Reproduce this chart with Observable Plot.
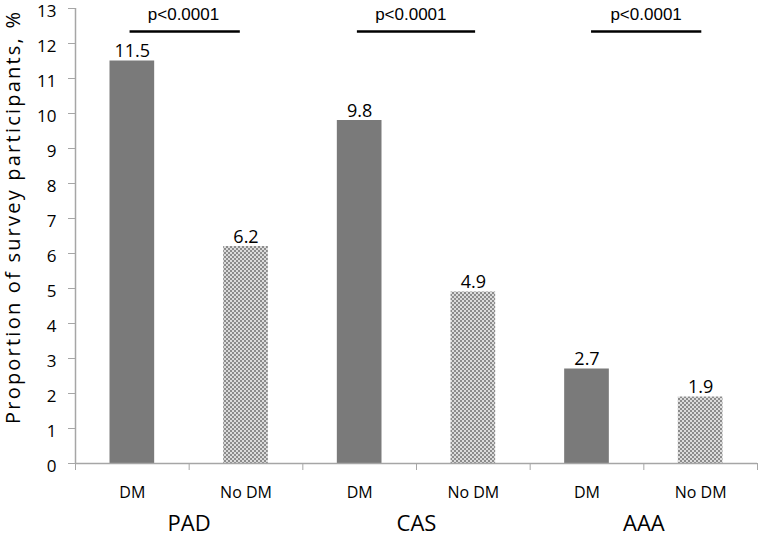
<!DOCTYPE html>
<html>
<head>
<meta charset="utf-8">
<script src="https://cdn.jsdelivr.net/npm/d3@7"></script>
<script src="https://cdn.jsdelivr.net/npm/@observablehq/plot@0.6"></script>
<style>
  html, body { margin: 0; padding: 0; background: #fff; }
  #chart svg { display: block; }
</style>
</head>
<body>
<div id="chart"></div>
<script>
// ---- data ----
const groups = ["PAD", "CAS", "AAA"];
const subgroups = ["DM", "No DM", "DM", "No DM", "DM", "No DM"];
const values = [11.5, 6.2, 9.8, 4.9, 2.7, 1.9];
const yTicks = [0, 1, 2, 3, 4, 5, 6, 7, 8, 9, 10, 11, 12, 13];
const yLabel = "Proportion of survey participants, %";
const pLabels = ["p<0.0001", "p<0.0001", "p<0.0001"];
const pLabelX = [0.95, 2.95, 5.02];
const bracketStart = [0.48, 2.48, 4.54];
const bracketEnd = [1.45, 3.52, 5.51];
const bracketY = 12.34;
const pTextY = 12.84;
const groupLabelX = [1, 3, 5];
const boundaries = [0, 1, 2, 3, 4, 5, 6];

const bars = values.map((v, i) => ({i, sub: subgroups[i], value: v, group: groups[Math.floor(i / 2)]}));
const brackets = pLabels.map((p, k) => ({p, x: pLabelX[k], x1: bracketStart[k], x2: bracketEnd[k], group: groups[k]}));
const groupRows = groups.map((g, k) => ({g, x: groupLabelX[k]}));

const sans = "'Liberation Sans', Arial, sans-serif";
const soft = "'Open Sans', 'DejaVu Sans', sans-serif";
const axisGray = "#a6a6a6";

const plot = Plot.plot({
  width: 760,
  height: 536,
  marginLeft: 75,
  marginRight: 3,
  marginTop: 8,
  marginBottom: 73,
  style: {fontFamily: sans, background: "#fff", overflow: "visible"},
  x: {type: "linear", domain: [0, 6], axis: null},
  y: {domain: [0, 13], axis: null},
  marks: [
    // bars
    Plot.rectY(bars, {
      x1: d => d.i,
      x2: d => d.i + 1,
      y: "value",
      insetLeft: 34.5,
      insetRight: 34.5,
      fill: d => d.sub === "DM" ? "#7a7a7a" : "url(#checker)"
    }),
    // axes lines
    Plot.ruleX([0], {stroke: axisGray, strokeWidth: 1.5}),
    Plot.ruleY([0], {stroke: axisGray, strokeWidth: 1.5}),
    // y tick marks
    Plot.axisY({
      ticks: yTicks,
      tickSize: 7,
      tickFormat: () => "",
      stroke: axisGray,
      label: null
    }),
    // y tick labels (slightly below the tick, as in the reference)
    Plot.axisY({
      ticks: yTicks,
      tickSize: 0,
      tickPadding: 19,
      dy: 3,
      fill: "black",
      fontSize: 17,
      fontFamily: soft,
      label: null
    }),
    // x boundary tick marks
    Plot.axisX({
      ticks: boundaries,
      tickSize: 7,
      tickFormat: () => "",
      stroke: axisGray,
      label: null
    }),
    // value labels
    Plot.text(bars, {
      x: d => d.i + 0.5,
      y: "value",
      text: d => d.value.toFixed(1),
      lineAnchor: "bottom",
      dy: -4,
      fontSize: 18,
      fontFamily: soft,
      fill: "black"
    }),
    // subgroup labels
    Plot.text(bars, {
      x: d => d.i + 0.5,
      y: 0,
      text: "sub",
      dy: 29,
      fontSize: 16,
      fontFamily: soft,
      fill: "black"
    }),
    // group labels
    Plot.text(groupRows, {
      x: "x",
      y: 0,
      text: "g",
      dy: 60,
      fontSize: 22,
      fontFamily: soft,
      fill: "black"
    }),
    // significance brackets
    Plot.ruleY(brackets, {
      x1: "x1",
      x2: "x2",
      y: bracketY,
      stroke: "black",
      strokeWidth: 2.5
    }),
    Plot.text(brackets, {
      x: "x",
      y: pTextY,
      text: "p",
      fontSize: 17,
      fontFamily: sans,
      fill: "black"
    }),
    // y axis label
    Plot.text([yLabel], {
      frameAnchor: "left",
      textAnchor: "middle",
      text: d => d,
      rotate: -90,
      dx: -62,
      dy: -18,
      fontSize: 20,
      fontFamily: soft,
      fill: "black"
    })
  ]
});

// stretch the y label to the reference extent
plot.querySelectorAll("text").forEach(t => {
  if (t.textContent === yLabel) {
    t.setAttribute("textLength", "412");
    t.setAttribute("lengthAdjust", "spacing");
  }
});

// checkerboard pattern
const ns = "http://www.w3.org/2000/svg";
const defs = document.createElementNS(ns, "defs");
const pat = document.createElementNS(ns, "pattern");
pat.setAttribute("id", "checker");
pat.setAttribute("width", "4");
pat.setAttribute("height", "4");
pat.setAttribute("patternUnits", "userSpaceOnUse");
const bg = document.createElementNS(ns, "rect");
bg.setAttribute("width", "4"); bg.setAttribute("height", "4"); bg.setAttribute("fill", "#dcdcdc");
pat.appendChild(bg);
[[0, 0], [2, 2]].forEach(([x, y]) => {
  const r = document.createElementNS(ns, "rect");
  r.setAttribute("x", x); r.setAttribute("y", y);
  r.setAttribute("width", "2"); r.setAttribute("height", "2");
  r.setAttribute("fill", "#8c8c8c");
  pat.appendChild(r);
});
defs.appendChild(pat);
plot.insertBefore(defs, plot.firstChild);

document.getElementById("chart").appendChild(plot);
</script>
</body>
</html>
